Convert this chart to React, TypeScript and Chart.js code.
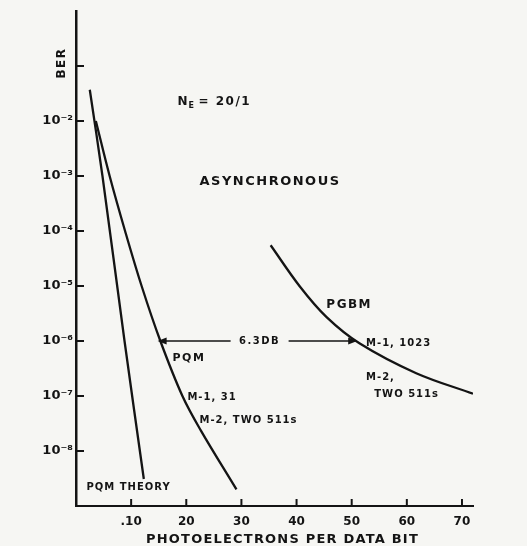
import { useEffect, useRef } from "react";
import { Chart, registerables } from "chart.js";
Chart.register(...registerables);

// ---- data ----
const THEORY_X = [2.5, 4.8, 8.8, 12.3];
const THEORY_BER = [3.7e-2, 1e-3, 1e-6, 3.1e-9];

const PQM_X = [3.6, 6.1, 8.9, 11.9, 15.3, 19.3, 22.6, 29.1];
const PQM_BER = [1e-2, 1e-3, 1e-4, 1e-5, 1e-6, 1e-7, 2.4e-8, 2.0e-9];

const PGBM_X = [35.3, 40.6, 45.4, 51.4, 61.7, 72.0];
const PGBM_BER = [5.5e-5, 9.8e-6, 2.75e-6, 9.1e-7, 2.6e-7, 1.1e-7];

const X_TICKS = [10, 20, 30, 40, 50, 60, 70];
const X_TICK_LABELS = [".10", "20", "30", "40", "50", "60", "70"];
const Y_TICKS = [1e-8, 1e-7, 1e-6, 1e-5, 1e-4, 1e-3, 1e-2, 1e-1];
const Y_TICK_LABELS = ["10⁻⁸", "10⁻⁷", "10⁻⁶", "10⁻⁵", "10⁻⁴", "10⁻³", "10⁻²", ""];

const ARROW_FROM = 14.8;
const ARROW_TO = 51.0;
const ARROW_BER = 1e-6;
const ARROW_TEXT = "6.3DB";
const ARROW_TEXT_X = 33.3;

const X_TITLE = "PHOTOELECTRONS PER DATA BIT";
const Y_TITLE = "BER";

// annotations: [text, x (data), ber (data), font px, letter spacing]
const NOTES: [string, number, number, number, number][] = [
  ["ASYNCHRONOUS", 22.4, 10 ** -3.11, 13, 1.5],
  ["PQM", 17.5, 10 ** -6.31, 11, 1.5],
  ["M-1, 31", 20.2, 10 ** -7.02, 10, 1],
  ["M-2, TWO 511s", 22.4, 10 ** -7.44, 10, 1],
  ["PGBM", 45.4, 10 ** -5.35, 12, 1.5],
  ["M-1, 1023", 52.6, 10 ** -6.04, 10, 1],
  ["M-2,", 52.6, 10 ** -6.66, 10, 1],
  ["TWO 511s", 54.1, 10 ** -6.98, 10, 1],
  ["PQM THEORY", 1.9, 10 ** -8.67, 10, 1],
];
const NE_X = 18.4;
const NE_BER = 10 ** -1.66;

const INK = "#141414";
const BG = "#f6f6f3";
const FONT = "'DejaVu Sans', sans-serif";

function txt(ctx: CanvasRenderingContext2D, s: string, x: number, y: number, size: number, sp: number, align: CanvasTextAlign = "left") {
  ctx.save();
  ctx.font = `bold ${size}px ${FONT}`;
  (ctx as any).letterSpacing = `${sp}px`;
  ctx.textAlign = align;
  ctx.textBaseline = "middle";
  ctx.fillStyle = INK;
  ctx.fillText(s, x, y);
  ctx.restore();
}

const decor = {
  id: "decor",
  beforeDraw(chart: any) {
    const ctx = chart.ctx;
    ctx.save();
    ctx.fillStyle = BG;
    ctx.fillRect(0, 0, chart.width, chart.height);
    ctx.restore();
  },
  afterDraw(chart: any) {
    const ctx: CanvasRenderingContext2D = chart.ctx;
    const xs = chart.scales.x;
    const ys = chart.scales.y;
    const ca = chart.chartArea;
    ctx.save();
    ctx.strokeStyle = INK;
    ctx.lineWidth = 2;
    // inward tick marks
    for (const v of Y_TICKS) {
      const py = ys.getPixelForValue(v);
      ctx.beginPath();
      ctx.moveTo(ca.left, py);
      ctx.lineTo(ca.left + 8, py);
      ctx.stroke();
    }
    for (const v of X_TICKS) {
      const px = xs.getPixelForValue(v);
      ctx.beginPath();
      ctx.moveTo(px, ca.bottom);
      ctx.lineTo(px, ca.bottom - 7);
      ctx.stroke();
    }
    // double arrow
    const ay = ys.getPixelForValue(ARROW_BER);
    const a1 = xs.getPixelForValue(ARROW_FROM);
    const a2 = xs.getPixelForValue(ARROW_TO);
    const tc = xs.getPixelForValue(ARROW_TEXT_X);
    ctx.lineWidth = 1.6;
    ctx.beginPath();
    ctx.moveTo(a1 + 2, ay);
    ctx.lineTo(tc - 29, ay);
    ctx.moveTo(tc + 29, ay);
    ctx.lineTo(a2 - 2, ay);
    ctx.stroke();
    ctx.fillStyle = INK;
    ctx.beginPath();
    ctx.moveTo(a1, ay);
    ctx.lineTo(a1 + 9, ay - 3.5);
    ctx.lineTo(a1 + 9, ay + 3.5);
    ctx.closePath();
    ctx.fill();
    ctx.beginPath();
    ctx.moveTo(a2, ay);
    ctx.lineTo(a2 - 9, ay - 3.5);
    ctx.lineTo(a2 - 9, ay + 3.5);
    ctx.closePath();
    ctx.fill();
    ctx.restore();

    txt(ctx, ARROW_TEXT, tc, ay, 10, 1.5, "center");

    for (const [s, x, b, size, sp] of NOTES) {
      txt(ctx, s, xs.getPixelForValue(x), ys.getPixelForValue(b), size, sp);
    }
    // N_E = 20/1
    const nx = xs.getPixelForValue(NE_X);
    const ny = ys.getPixelForValue(NE_BER);
    txt(ctx, "N", nx, ny, 12, 1);
    txt(ctx, "E", nx + 11, ny + 4, 8, 0);
    txt(ctx, "= 20/1", nx + 21, ny, 12, 1.5);

    // axis titles
    txt(ctx, X_TITLE, (ca.left + ca.right) / 2 + 8, 540, 13, 1.2, "center");
    ctx.save();
    ctx.translate(62, 63);
    ctx.rotate(-Math.PI / 2);
    txt(ctx, Y_TITLE, 0, 0, 12, 1.5, "center");
    ctx.restore();
  },
};

function pts(xs: number[], ys: number[]) {
  return xs.map((x, i) => ({ x, y: ys[i] }));
}

export default function App() {
  const ref = useRef<HTMLCanvasElement>(null);
  useEffect(() => {
    if (!ref.current) return;
    const line = (data: any) => ({
      data,
      borderColor: INK,
      borderWidth: 2.3,
      pointRadius: 0,
      fill: false,
      tension: 0.35,
    });
    const chart = new Chart(ref.current, {
      type: "line",
      data: {
        datasets: [
          { label: "PQM THEORY", ...line(pts(THEORY_X, THEORY_BER)) },
          { label: "PQM", ...line(pts(PQM_X, PQM_BER)) },
          { label: "PGBM", ...line(pts(PGBM_X, PGBM_BER)) },
        ],
      },
      options: {
        animation: false,
        responsive: false,
        layout: { padding: { top: 11, right: 54, left: 0, bottom: 0 } },
        plugins: { legend: { display: false }, tooltip: { enabled: false } },
        scales: {
          x: {
            type: "linear",
            min: 0,
            max: 72,
            grid: { display: false, drawTicks: false },
            border: { display: true, color: INK, width: 2 },
            afterBuildTicks: (s: any) => {
              s.ticks = X_TICKS.map((v) => ({ value: v }));
            },
            afterFit: (s: any) => {
              s.height = 40;
            },
            ticks: {
              padding: 9,
              color: INK,
              font: { family: FONT, size: 12, weight: "bold" },
              maxRotation: 0,
              callback: (v: any) => {
                const i = X_TICKS.indexOf(Number(v));
                return i >= 0 ? X_TICK_LABELS[i] : "";
              },
            },
          },
          y: {
            type: "logarithmic",
            min: 1e-9,
            max: 1,
            grid: { display: false, drawTicks: false },
            border: { display: true, color: INK, width: 2.5 },
            afterBuildTicks: (s: any) => {
              s.ticks = Y_TICKS.map((v) => ({ value: v }));
            },
            afterFit: (s: any) => {
              s.width = 76;
            },
            ticks: {
              padding: 3,
              color: INK,
              font: { family: FONT, size: 13, weight: "bold" },
              callback: (v: any) => {
                const i = Y_TICKS.findIndex((t) => Math.abs(Math.log10(t) - Math.log10(Number(v))) < 1e-6);
                return i >= 0 ? Y_TICK_LABELS[i] : "";
              },
            },
          },
        },
      },
      plugins: [decor],
    });
    return () => chart.destroy();
  }, []);
  return (
    <canvas
      ref={ref}
      width={527}
      height={546}
      style={{ position: "fixed", left: 0, top: 0, display: "block" }}
    />
  );
}
